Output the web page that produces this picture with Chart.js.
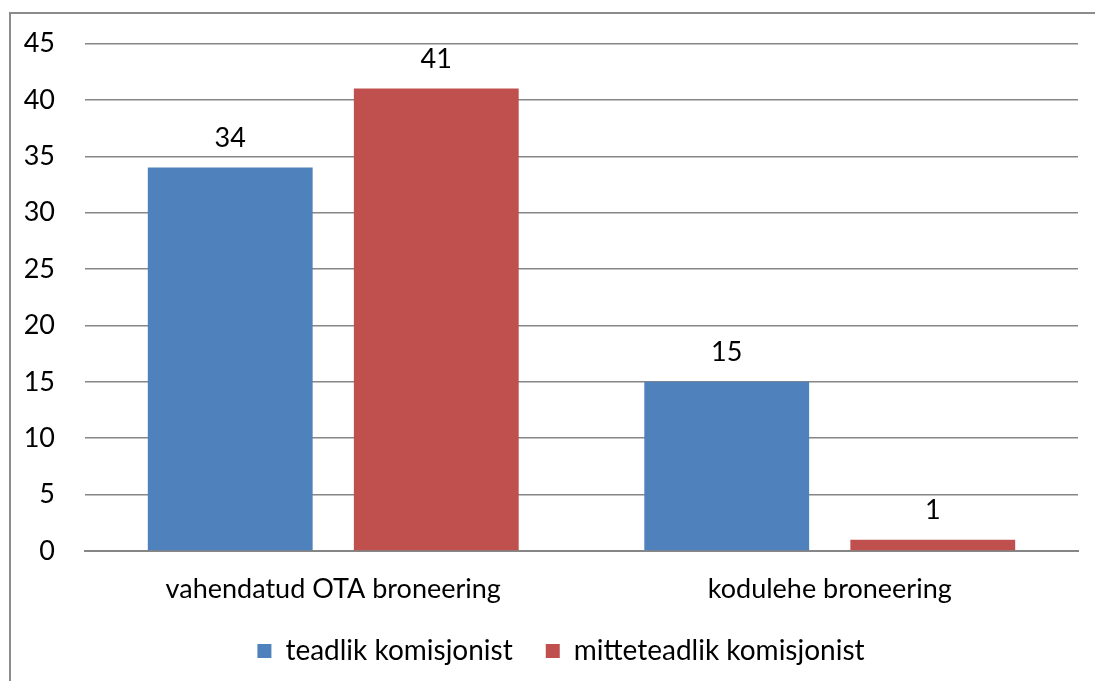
<!DOCTYPE html>
<html>
<head>
<meta charset="utf-8">
<script src="https://cdn.jsdelivr.net/npm/chart.js@4.4.0/dist/chart.umd.min.js"></script>
<style>
  body { margin: 0; background: #fff; overflow: hidden; }
  #raam { position: absolute; left: 9px; top: 12px; width: 1100px; height: 700px; border: 2px solid #8c8c8c; }
  #wrap { position: absolute; left: 0; top: 0; width: 1095px; height: 690px; }
</style>
</head>
<body>
<div id="raam"></div>
<div id="wrap"><canvas id="graafik"></canvas></div>
<script>
// andmed
const kategooriad = ["vahendatud OTA broneering", "kodulehe broneering"];
const teadlik = [34, 15];
const mitteteadlik = [41, 1];
const yMax = 45;
const ySamm = 5;

const font = "Lato, 'Noto Sans', sans-serif";
const suurus = 27;

// väärtused tulpade kohale
const vaartusteSildid = {
  id: "vaartusteSildid",
  afterDatasetsDraw(chart) {
    const ctx = chart.ctx;
    ctx.save();
    ctx.font = suurus + "px " + font;
    ctx.fillStyle = "#000";
    ctx.textAlign = "center";
    ctx.textBaseline = "bottom";
    chart.data.datasets.forEach((ds, i) => {
      chart.getDatasetMeta(i).data.forEach((bar, j) => {
        ctx.fillText(ds.data[j], bar.x, bar.y - 16);
      });
    });
    ctx.restore();
  }
};

// legend veidi paremale, nagu originaalis
const legendNihe = {
  id: "legendNihe",
  afterLayout(chart) {
    chart.legend.left += 22;
    chart.legend.right += 22;
  }
};

const graafik = new Chart(document.getElementById("graafik"), {
  type: "bar",
  data: {
    labels: kategooriad,
    datasets: [
      { label: "teadlik komisjonist", data: teadlik, backgroundColor: "#4F81BD" },
      { label: "mitteteadlik komisjonist", data: mitteteadlik, backgroundColor: "#C0504D" }
    ]
  },
  options: {
    responsive: true,
    maintainAspectRatio: false,
    animation: false,
    categoryPercentage: 0.83,
    barPercentage: 0.8,
    layout: { padding: { left: 0, right: 17, top: 20, bottom: 15 } },
    scales: {
      x: {
        afterFit(scale) { scale.height = 53; },
        grid: { display: false },
        border: { display: true, color: "#868686", width: 2 },
        ticks: { color: "#000", font: { family: font, size: suurus }, padding: 14 }
      },
      y: {
        min: 0,
        max: yMax,
        afterFit(scale) { scale.width = 85; },
        grid: { color: "#868686", lineWidth: 1.5, drawTicks: false },
        border: { display: false },
        ticks: { stepSize: ySamm, color: "#000", font: { family: font, size: suurus, lineHeight: 1 }, padding: 30 }
      }
    },
    plugins: {
      tooltip: { enabled: false },
      legend: {
        position: "bottom",
        labels: {
          color: "#000",
          font: { family: font, size: 28 },
          boxWidth: 14,
          boxHeight: 14,
          padding: 33
        }
      }
    }
  },
  plugins: [vaartusteSildid, legendNihe]
});
</script>
</body>
</html>
